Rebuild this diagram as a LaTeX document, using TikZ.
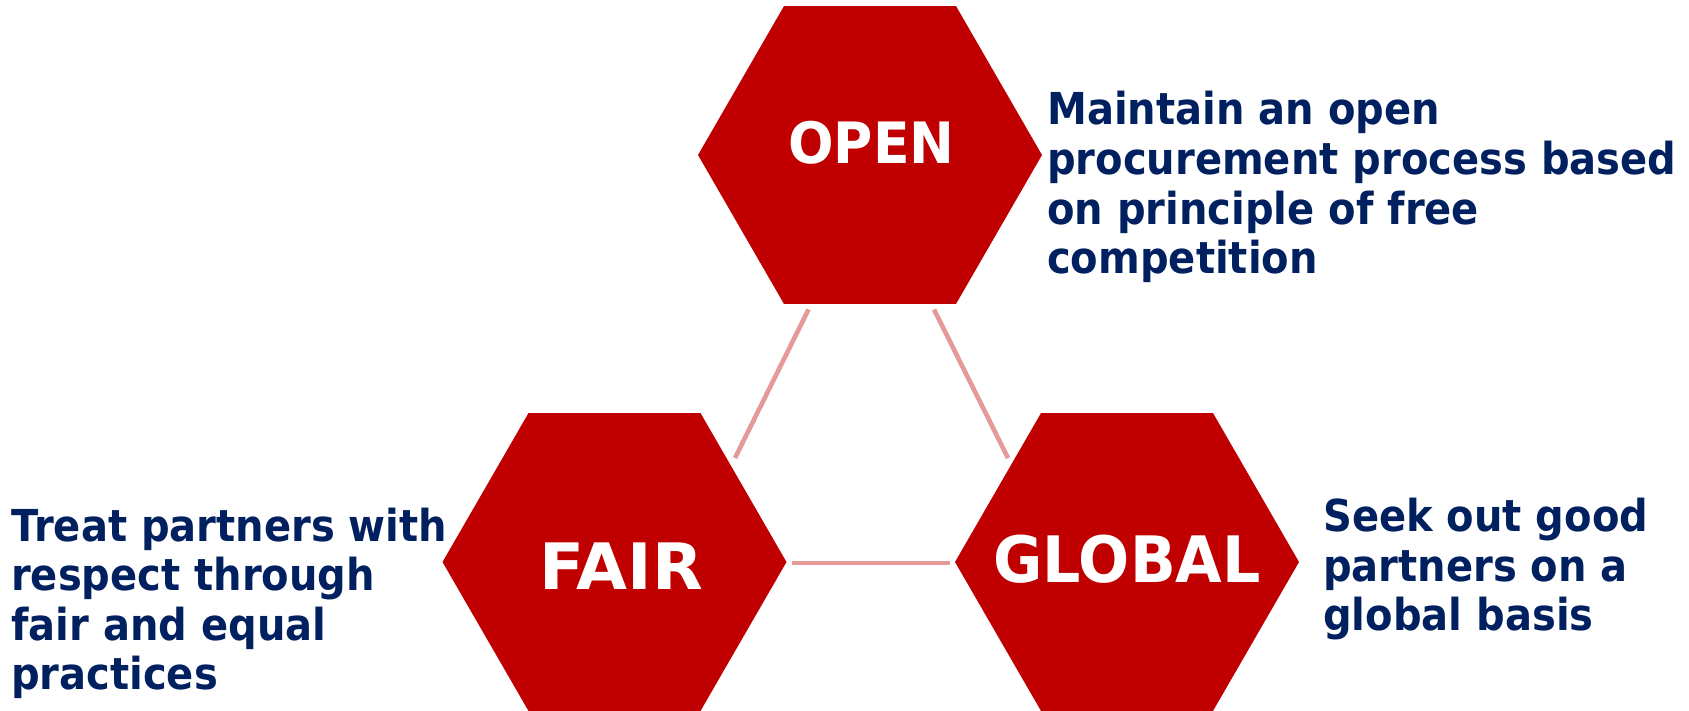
\documentclass[tikz,border=0pt]{standalone}
\usepackage{fontspec}
\usetikzlibrary{shapes.geometric}
\newfontfamily\descfont[FakeStretch=0.91]{DejaVu Sans Bold}
\newfontfamily\hexfont[FakeStretch=0.94]{DejaVu Sans Bold}
\newfontfamily\hexfontwide[FakeStretch=1.03]{DejaVu Sans Bold}
\definecolor{hexred}{HTML}{C00000}
\definecolor{navy}{HTML}{002060}
\definecolor{linkpink}{HTML}{E69999}
\tikzset{
  hexagon/.style={regular polygon, regular polygon sides=6, minimum size=344pt,
    inner sep=0pt, outer sep=0pt, fill=hexred, draw=none},
  hexlabel/.style={anchor=base, inner sep=0pt, text=white, font=\hexfont\fontsize{64}{70}\selectfont},
  desc/.style={anchor=base west, inner sep=0pt, text=navy, font=\descfont\fontsize{44}{49.6}\selectfont},
  link/.style={draw=linkpink, line width=4.6pt, line cap=butt}
}
\begin{document}
\begin{tikzpicture}[x=1pt,y=-1pt]
\fill[white] (0,0) rectangle (1689,711);
\useasboundingbox (0,0) rectangle (1689,711);
\begin{scope}
\clip (0,0) rectangle (1689,711);
\node[hexagon] (hexopen) at (870,155) {};
\node[hexagon] (hexfair) at (614.5,562) {};
\node[hexagon] (hexglobal) at (1127,562) {};
\end{scope}
\node[hexlabel, font=\hexfont\fontsize{57}{62}\selectfont] (lblopen) at (871.5,164) {OPEN};
\node[hexlabel, font=\hexfontwide\fontsize{64}{70}\selectfont] (lblfair) at (621,589) {FAIR};
\node[hexlabel] (lblglobal) at (1127,582) {GLOBAL};
% connectors
\coordinate (of1) at (808.5,309.5);
\coordinate (of2) at (735,458);
\coordinate (og1) at (934,309.5);
\coordinate (og2) at (1008,458);
\coordinate (fg1) at (792,563);
\coordinate (fg2) at (950,563);
\draw[link] (of1) -- (of2);
\draw[link] (og1) -- (og2);
\draw[link] (fg1) -- (fg2);
% descriptions
\node[desc] (descopen) at (1047,125) {\begin{tabular}[t]{@{}l@{}}Maintain an open\\procurement process based\\on principle of free\\competition\end{tabular}};
\node[desc] (descfair) at (11,541) {\begin{tabular}[t]{@{}l@{}}Treat partners with\\respect through\\fair and equal\\practices\end{tabular}};
\node[desc] (descglobal) at (1323,531.5) {\begin{tabular}[t]{@{}l@{}}Seek out good\\partners on a\\global basis\end{tabular}};
\end{tikzpicture}
\end{document}
